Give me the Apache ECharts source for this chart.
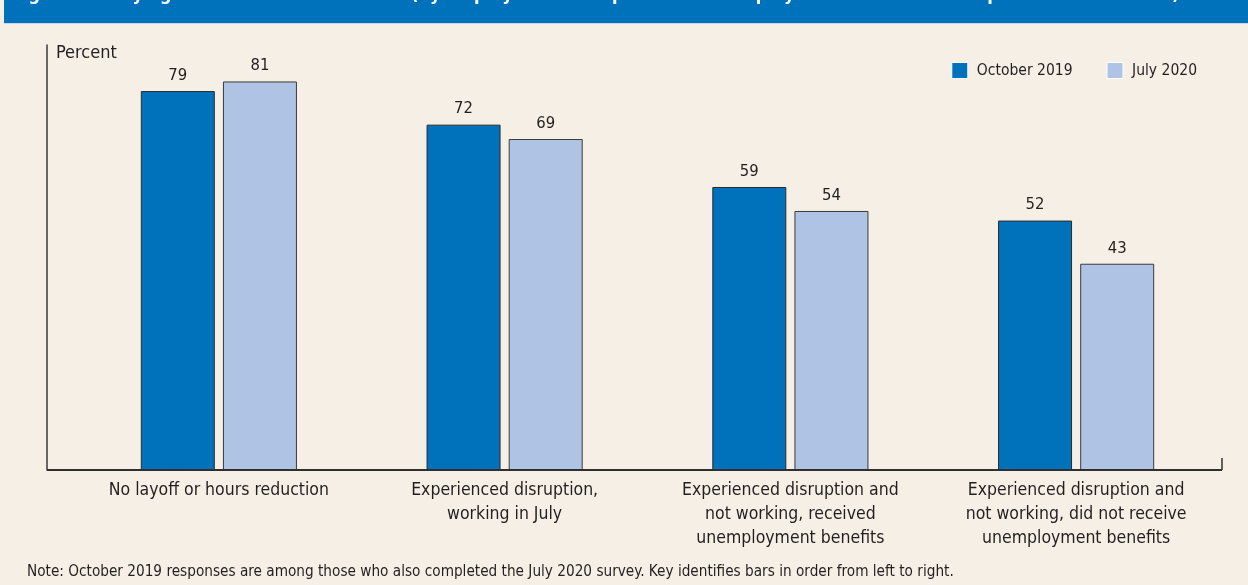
<!DOCTYPE html>
<html>
<head>
<meta charset="utf-8">
<style>
  html, body { margin: 0; padding: 0; background: #f6efe6; }
  #chart { width: 1248px; height: 585px; }
</style>
<script src="https://cdn.jsdelivr.net/npm/echarts@6/dist/echarts.min.js"></script>
</head>
<body>
<div id="chart"></div>
<script>
// Share of respondents, by employment disruption and benefit receipt
const categories = [
  'No layoff or hours reduction',
  'Experienced disruption,\nworking in July',
  'Experienced disruption and\nnot working, received\nunemployment benefits',
  'Experienced disruption and\nnot working, did not receive\nunemployment benefits'
];
const october2019 = [79, 72, 59, 52];
const july2020 = [81, 69, 54, 43];
const seriesNames = ['October 2019', 'July 2020'];

const titleText = 'Figure 11. Paying all bills in full this month (by employment disruption and unemployment insurance receipt since March 2020)';
const noteText = 'Note: October 2019 responses are among those who also completed the July 2020 survey. Key identifies bars in order from left to right.';

const FONT = "'DejaVu Sans Condensed', 'Liberation Sans', sans-serif";
const INK = '#231f20';
const DARK = '#0071bb';
const LIGHT = '#afc4e4';

const chart = echarts.init(document.getElementById('chart'));

const option = {
  backgroundColor: '#f6efe6',
  animation: false,
  textStyle: { fontFamily: FONT, color: INK },
  grid: { left: 76, right: 29, top: 45, bottom: 115, containLabel: false },
  legend: {
    top: 57,
    right: 46,
    itemWidth: 16,
    itemHeight: 16,
    itemGap: 34,
    icon: 'rect',
    textStyle: { fontFamily: FONT, fontSize: 15.5, color: INK, padding: [0, 0, 0, 4] },
    itemStyle: { borderColor: '#ffffff', borderWidth: 1 },
    data: seriesNames
  },
  xAxis: {
    type: 'category',
    data: categories,
    axisLine: { show: false },
    axisTick: { show: false },
    axisLabel: {
      interval: 0,
      margin: 8,
      fontFamily: FONT,
      fontSize: 17.5,
      lineHeight: 24,
      color: INK
    }
  },
  yAxis: {
    type: 'value',
    min: 0,
    max: 88.6,
    offset: 29,
    splitLine: { show: false },
    axisTick: { show: false },
    axisLabel: { show: false },
    axisLine: { show: true, lineStyle: { color: '#3a3a3a', width: 1.5 } },
    name: 'Percent',
    nameLocation: 'end',
    nameGap: -8,
    nameTextStyle: {
      fontFamily: FONT, fontSize: 18, color: INK,
      align: 'left', verticalAlign: 'middle', padding: [0, 0, 0, 9]
    }
  },
  series: [
    {
      name: seriesNames[0],
      type: 'bar',
      data: october2019,
      barWidth: 74,
      barGap: '11%',
      itemStyle: { color: DARK, borderColor: '#2b2b2b', borderWidth: 1 },
      label: { show: true, position: 'top', distance: 7, fontFamily: FONT, fontSize: 16.5, color: INK }
    },
    {
      name: seriesNames[1],
      type: 'bar',
      data: july2020,
      barWidth: 74,
      itemStyle: { color: LIGHT, borderColor: '#3a3a3a', borderWidth: 1 },
      label: { show: true, position: 'top', distance: 7, fontFamily: FONT, fontSize: 16.5, color: INK }
    }
  ]
};

chart.setOption(option);

// Baseline, end tick, title banner and note drawn around the plot
const baseY = chart.convertToPixel({ yAxisIndex: 0 }, 0);
const axisX = 47;
const endX = 1222;
chart.setOption({
  graphic: [
    { type: 'rect', shape: { x: 4, y: 0, width: 1244, height: 23 }, style: { fill: DARK }, z: 10 },
    { type: 'line', shape: { x1: 4, y1: 23.5, x2: 1248, y2: 23.5 }, style: { stroke: '#c9d6e8', lineWidth: 1 }, z: 10 },
    {
      type: 'text', x: 12, y: 4, z: 11,
      style: { text: titleText, fill: '#ffffff', font: 'bold 18px ' + FONT, verticalAlign: 'bottom' }
    },
    { type: 'line', shape: { x1: axisX, y1: baseY, x2: endX, y2: baseY }, style: { stroke: '#2f2f2f', lineWidth: 2 }, z: 5 },
    { type: 'line', shape: { x1: endX, y1: baseY, x2: endX, y2: baseY - 12 }, style: { stroke: '#2f2f2f', lineWidth: 1.5 }, z: 5 },
    {
      type: 'text', x: 27, y: 572, z: 5,
      style: { text: noteText, fill: INK, font: '15.2px ' + FONT, verticalAlign: 'middle' }
    }
  ]
});
</script>
</body>
</html>
